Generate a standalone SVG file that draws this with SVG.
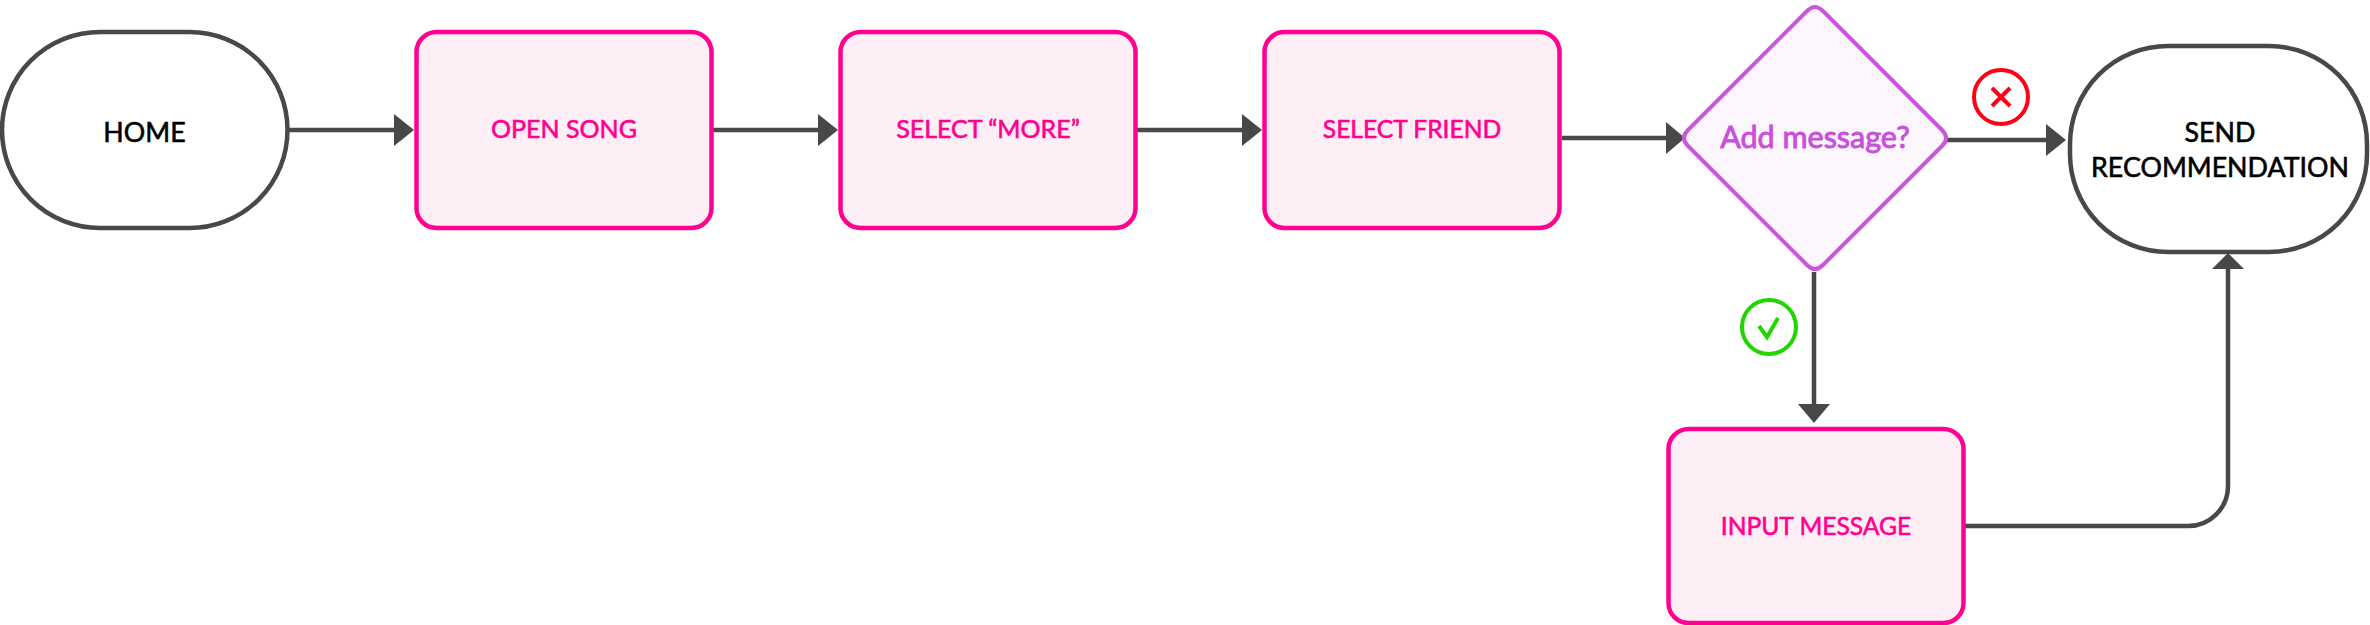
<svg xmlns="http://www.w3.org/2000/svg" width="2370" height="625" viewBox="0 0 2370 625">
<style>
text{font-family:"Lato","Noto Sans",sans-serif;font-weight:400;font-size:24.6px;text-anchor:middle;stroke-width:.6px}
.t{fill:#fff;stroke:#484848;stroke-width:4.500}
.p{fill:#feeff7;stroke:#ff0090;stroke-width:4.500}
.pt{fill:#ff0090;stroke:#ff0090}
.w{font-size:25px}
.k{fill:#000;stroke:#000;font-size:26.800px}
.d{fill:#c94fdc;stroke:#c94fdc;stroke-width:.9px;font-size:30.500px}
.c{fill:none;stroke:#484848;stroke-width:4.500}
.h{fill:#484848}
</style>
<rect width="2370" height="625" fill="#fff"/>
<g id="connectors">
<path class="c" d="M289 130H396"/><polygon class="h" points="394,114 414,130 394,146"/>
<path class="c" d="M713 130H820"/><polygon class="h" points="818,114 838,130 818,146"/>
<path class="c" d="M1137 130H1244"/><polygon class="h" points="1242,114 1262,130 1242,146"/>
<path class="c" d="M1562 138H1668"/><polygon class="h" points="1666,122 1685,138 1666,154"/>
<path class="c" d="M1946 140H2048"/><polygon class="h" points="2046,124 2066,140 2046,156"/>
<path class="c" d="M1814 272V406"/><polygon class="h" points="1798,404 1830,404 1814,423"/>
<path class="c" d="M1965 526H2188A40 40 0 0 0 2228 486V267"/><polygon class="h" points="2212,269 2244,269 2228,253"/>
</g>
<g id="home"><rect class="t" x="2" y="32" width="285.500" height="196" rx="98" ry="98"/><text class="k" x="144.500" y="141.500">HOME</text></g>
<g id="open-song"><rect class="p" x="416.500" y="32" width="295" height="196" rx="20"/><text class="pt w" x="564" y="138">OPEN SONG</text></g>
<g id="select-more"><rect class="p" x="840.500" y="32" width="295" height="196" rx="20"/><text class="pt w" x="988" y="138">SELECT “MORE”</text></g>
<g id="select-friend"><rect class="p" x="1264.500" y="32" width="295" height="196" rx="20"/><text class="pt" x="1412" y="138">SELECT FRIEND</text></g>
<g id="add-message"><path d="M1807 11Q1815 3 1823 11L1942 130Q1950 138 1942 146L1823 265Q1815 273 1807 265L1688 146Q1680 138 1688 130Z" fill="#fcf6fd" stroke="#cc55dd" stroke-width="4"/><text class="d" x="1815" y="148">Add message?</text></g>
<g id="send"><rect class="t" x="2070" y="46" width="297" height="206" rx="98" ry="98"/><text class="k" x="2220" y="141.500">SEND</text><text class="k" x="2220" y="177">RECOMMENDATION</text></g>
<g id="input-message"><rect class="p" x="1668.500" y="429" width="295" height="194" rx="20"/><text class="pt" x="1816" y="534.500">INPUT MESSAGE</text></g>
<g id="no"><circle cx="2001" cy="97" r="27" fill="#fff" stroke="#ff0015" stroke-width="4"/><path d="M1992 88L2010 106M2010 88L1992 106" stroke="#ff0015" stroke-width="4" fill="none"/></g>
<g id="yes"><circle cx="1769" cy="327" r="27" fill="#fff" stroke="#22d400" stroke-width="4"/><path d="M1759 326L1767 337L1778 318" stroke="#22d400" stroke-width="4" fill="none"/></g>
</svg>
